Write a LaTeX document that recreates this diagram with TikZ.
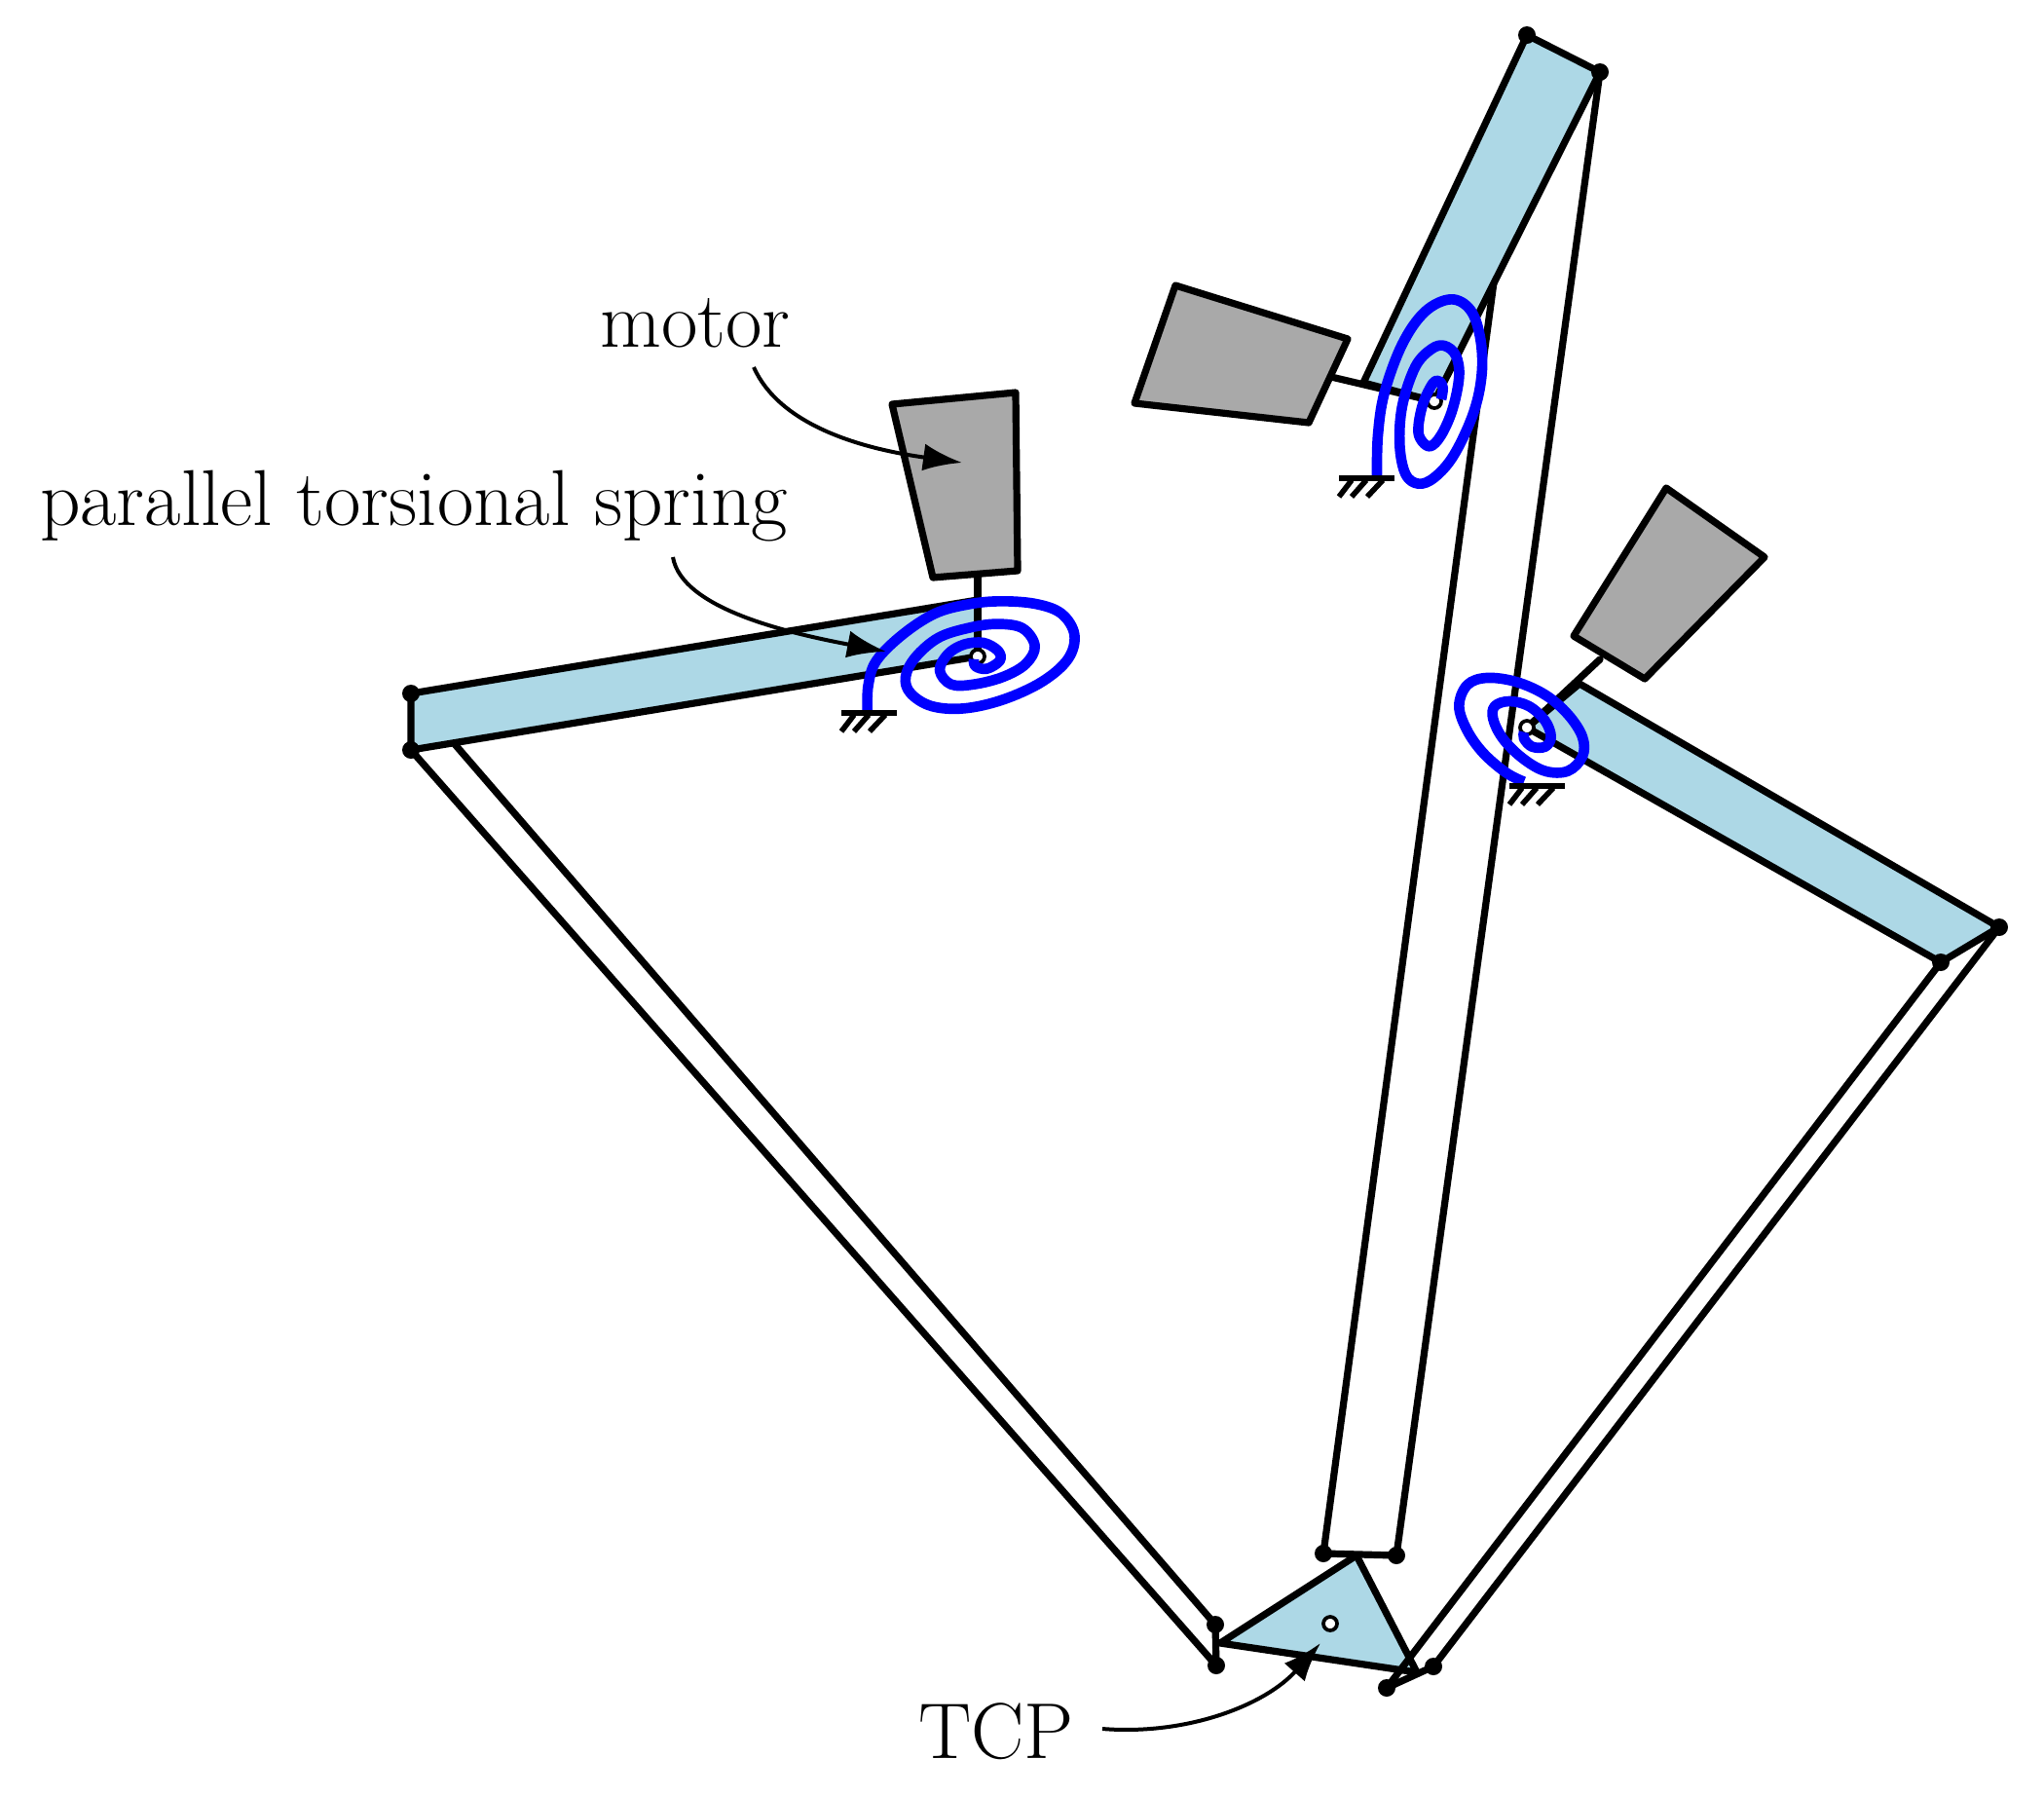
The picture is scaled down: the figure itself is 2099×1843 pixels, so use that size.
\documentclass[tikz,border=0pt]{standalone}
\usetikzlibrary{arrows.meta}
\definecolor{armblue}{RGB}{173,216,230}
\definecolor{motorgray}{RGB}{169,169,169}
\tikzset{
  x=0.75pt,y=-0.75pt,
  bar/.style={line width=5.4pt,line cap=round,line join=round,black},
  armfill/.style={fill=armblue,draw=black,line width=5.4pt,line join=round},
  motorbox/.style={fill=motorgray,draw=black,line width=5.4pt,line join=round},
  spiral/.style={draw=blue,line width=8pt,line join=round},
  hatchbar/.style={line width=4.8pt,black},
  hatchline/.style={line width=4.2pt,black},
  dot/.style={circle,fill=black,inner sep=0pt,minimum size=13.5pt},
  pivot/.style={circle,fill=white,draw=black,line width=2.8pt,inner sep=0pt,minimum size=10.5pt},
  callout/.style={line width=3pt,black,-{Latex[length=30pt,width=21pt]}},
  lbl/.style={font=\fontsize{61}{68}\selectfont,inner sep=0pt},
}
\newcommand{\groundat}[2]{%
  \draw[hatchbar] (#1-27,#2) -- (#1+30,#2);
  \draw[hatchline] (#1-14,#2+2) -- (#1-27,#2+19);
  \draw[hatchline] (#1+1,#2+2) -- (#1-14,#2+19);
  \draw[hatchline] (#1+18,#2+2) -- (#1+2,#2+19);
}
\begin{document}
\begin{tikzpicture}
\useasboundingbox (0,0) rectangle (2099,1843);
% named points
\coordinate (LA) at (422,712); \coordinate (LB) at (422,770);
\coordinate (LP) at (1004,674); \coordinate (LC) at (1004,616);
\coordinate (LE1) at (1249,1710); \coordinate (LE2) at (1248,1668);
\coordinate (MA) at (1568,36); \coordinate (MB) at (1643,74);
\coordinate (MP) at (1473,412); \coordinate (MC) at (1400,393);
\coordinate (ME1) at (1359,1595); \coordinate (ME2) at (1434,1597);
\coordinate (RA) at (2053,952); \coordinate (RB) at (1993,988);
\coordinate (RP) at (1568,747); \coordinate (RC) at (1622,702);
\coordinate (RE1) at (1472,1711); \coordinate (RE2) at (1424,1733);
\coordinate (T1) at (1253,1687); \coordinate (T2) at (1393,1597); \coordinate (T3) at (1455,1717);
% platform
\draw[armfill] (T1) -- (T2) -- (T3) -- cycle;
% links
\draw[bar] (LB) -- (LE1);
\draw[bar] (LA) -- (LE2);
\draw[bar] (LE1) -- (LE2);
\draw[bar] (MA) -- (ME1);
\draw[bar] (MB) -- (ME2);
\draw[bar] (ME1) -- (ME2);
\draw[bar] (RA) -- (RE1);
\draw[bar] (RB) -- (RE2);
\draw[bar] (RE1) -- (RE2);
% arms
\draw[armfill] (LA) -- (LC) -- (LP) -- (LB) -- cycle;
\draw[armfill] (MA) -- (MB) -- (MP) -- (MC) -- cycle;
\draw[armfill] (RC) -- (RA) -- (RB) -- (RP) -- cycle;
% motors
\path[motorbox] (916,415) -- (1043,403) -- (1045,586) -- (958,593) -- cycle;
\path[motorbox] (1207,293) -- (1384,348) -- (1344,434) -- (1165,414) -- cycle;
\path[motorbox] (1711,501) -- (1812,572) -- (1689,697) -- (1616,653) -- cycle;
\coordinate (S1) at (1004,592); \coordinate (S2) at (1367,387); \coordinate (S3) at (1643,677);
\draw[bar] (S1) -- (LP);
\draw[bar] (S2) -- (MP);
\draw[bar] (S3) -- (RP);
% pivots below springs
\node[pivot] (p1) at (LP) {};
\node[pivot] (p2) at (MP) {};
\node[pivot] (p3) at (RP) {};
\node[pivot] (tcp) at (1366,1667) {};
% springs: points
\begin{scope}[shift={(850,580)},x=0.25pt,y=-0.25pt]
\draw[spiral] plot[smooth,tension=0.6] coordinates {(122,447)(125,370)(150,295)(230,215)(330,150)(430,122)(530,112)(640,120)(720,150)(760,215)(740,290)(660,360)(540,415)(420,442)(320,435)(255,395)(240,345)(270,285)(340,225)(430,195)(520,182)(600,195)(638,250)(610,305)(540,345)(450,368)(380,368)(345,325)(370,275)(420,245)(480,240)(525,265)(530,295)(490,320)(455,312)(450,290)};
\end{scope}
\begin{scope}[shift={(1340,270)},x=0.25pt,y=-0.25pt]
\draw[spiral] plot[smooth,tension=0.6] coordinates {(222,655)(225,530)(245,400)(300,250)(370,150)(450,112)(510,145)(540,230)(545,340)(520,460)(460,590)(400,660)(350,680)(310,650)(292,560)(300,440)(340,320)(390,265)(430,255)(465,285)(475,350)(455,450)(420,530)(385,565)(355,540)(350,500)(365,430)(395,370)(415,365)(425,385)(420,420)};
\end{scope}
\begin{scope}[shift={(1470,670)},x=0.25pt,y=-0.25pt]
\draw[spiral] plot[smooth,tension=0.6] coordinates {(285,398)(230,370)(160,310)(110,240)(85,165)(110,100)(170,78)(260,90)(350,130)(420,190)(465,260)(465,320)(420,365)(350,365)(280,325)(220,265)(190,205)(195,165)(240,150)(300,165)(350,210)(368,260)(350,290)(310,290)(285,265)(285,245)};
\end{scope}
% grounds
\groundat{891}{732}
\groundat{1402}{491}
\groundat{1577}{807}
% joints
\foreach \n in {LA,LB,LE1,LE2,MA,MB,ME1,ME2,RA,RB,RE1,RE2}
  \node[dot] at (\n) {};
% labels
\node[lbl] (tm) at (714,332) {motor};
\node[lbl] (tp) at (425,520) {parallel torsional spring};
\node[lbl] (tt) at (1023,1778) {TCP};
\coordinate (am) at (988,475);
\coordinate (ap) at (910,669);
\coordinate (at) at (1356,1687);
\draw[callout] (774,377) .. controls (800,435) and (880,460) .. (am);
\draw[callout] (691,572) .. controls (700,625) and (810,650) .. (ap);
\draw[callout] (1132,1775) .. controls (1220,1782) and (1300,1750) .. (at);
\end{tikzpicture}
\end{document}
